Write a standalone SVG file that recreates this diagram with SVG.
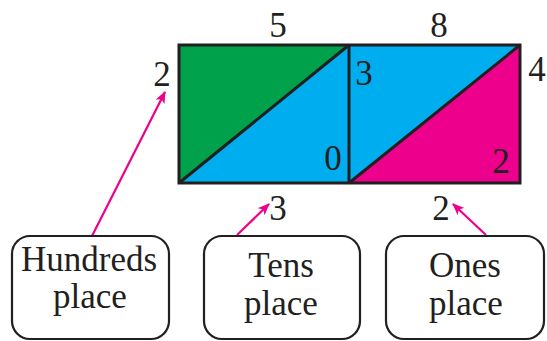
<svg xmlns="http://www.w3.org/2000/svg" width="547" height="341" viewBox="0 0 547 341">
<defs>
<style>
.d{font-size:35px;fill:#231f20;text-anchor:middle}
.l{font-size:35px;fill:#231f20;text-anchor:middle}
.box{fill:#fff;stroke:#231f20;stroke-width:2.2}
.arr{stroke:#ec008c;stroke-width:2.2;fill:none;marker-end:url(#ah)}
.edge{stroke:#231f20;stroke-width:3;fill:none;stroke-linejoin:miter}
</style>
<marker id="ah" viewBox="0 0 12 10" refX="11" refY="5" markerWidth="12" markerHeight="10" markerUnits="userSpaceOnUse" orient="auto">
<path d="M0,0 L12,5 L0,10 L3,5 Z" fill="#ec008c"/>
</marker>
</defs>
<g id="grid">
<polygon points="179,45 349,45 179,183" fill="#00a14b"/>
<polygon points="349,45 349,183 179,183" fill="#00aeef"/>
<polygon points="349,45 520,45 349,183" fill="#00aeef"/>
<polygon points="520,45 520,183 349,183" fill="#ec008c"/>
<rect x="179" y="45" width="341" height="138" class="edge"/>
<line x1="349" y1="45" x2="349" y2="183" class="edge"/>
<line x1="179" y1="183" x2="349" y2="45" class="edge"/>
<line x1="349" y1="183" x2="520" y2="45" class="edge"/>
</g>
<g id="digits" font-family="Liberation Serif">
<text class="d" x="278" y="37">5</text>
<text class="d" x="439" y="37">8</text>
<text class="d" x="162" y="86">2</text>
<text class="d" x="364" y="85">3</text>
<text class="d" x="537" y="81">4</text>
<text class="d" x="333" y="170">0</text>
<text class="d" x="501" y="173">2</text>
<text class="d" x="278" y="220">3</text>
<text class="d" x="441" y="220">2</text>
</g>
<g id="connectors">
<line x1="92" y1="236" x2="165" y2="92" class="arr"/>
<line x1="237" y1="235" x2="269" y2="204" class="arr"/>
<line x1="486" y1="235" x2="453" y2="204" class="arr"/>
</g>
<g id="hundreds" font-family="Liberation Serif">
<rect x="12" y="236" width="157" height="103" rx="18" class="box"/>
<text class="l" x="89" y="271">Hundreds</text>
<text class="l" x="90" y="308">place</text>
</g>
<g id="tens" font-family="Liberation Serif">
<rect x="204" y="236" width="156" height="103" rx="18" class="box"/>
<text class="l" x="281" y="277">Tens</text>
<text class="l" x="281" y="315">place</text>
</g>
<g id="ones" font-family="Liberation Serif">
<rect x="386" y="236" width="158" height="103" rx="18" class="box"/>
<text class="l" x="465" y="277">Ones</text>
<text class="l" x="466" y="315">place</text>
</g>
</svg>
